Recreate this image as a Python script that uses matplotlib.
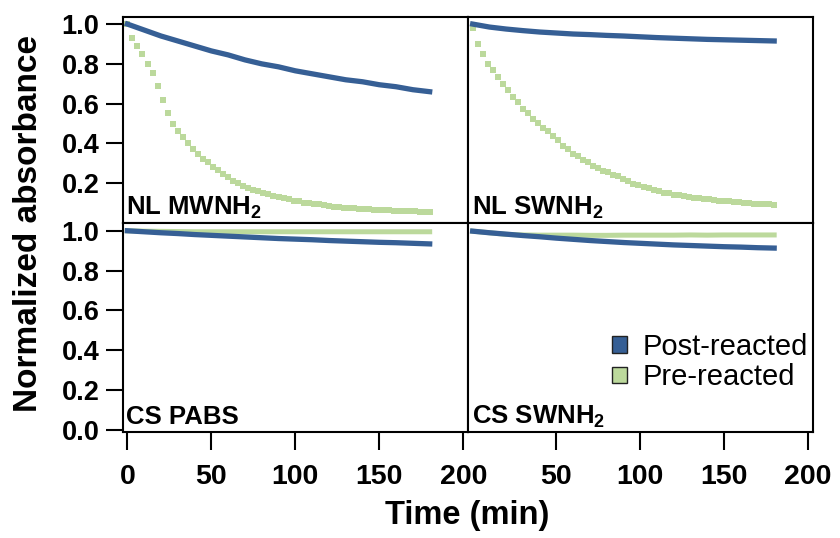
import matplotlib
matplotlib.use('Agg')
import matplotlib.pyplot as plt
import numpy as np
from matplotlib.patches import Patch

plt.rcParams['font.family'] = 'Liberation Sans'
plt.rcParams['font.weight'] = 'bold'
plt.rcParams['mathtext.fontset'] = 'custom'
plt.rcParams['mathtext.rm'] = 'Liberation Sans:bold'
plt.rcParams['mathtext.default'] = 'rm'

BLUE = '#365f95'
GREEN = '#bcd99c'

# time grids (min)
t_fine = np.arange(0, 181, 3)
t_coarse = np.arange(0, 181, 10)

# NL MWNH2
mw_post = [1.00, 0.97, 0.94, 0.915, 0.89, 0.865, 0.845, 0.82, 0.80, 0.785,
           0.765, 0.75, 0.735, 0.72, 0.71, 0.695, 0.685, 0.67, 0.66]
mw_pre = [1.00, 0.93, 0.89, 0.85, 0.80, 0.755, 0.69, 0.62, 0.555, 0.50,
          0.46, 0.43, 0.40, 0.37, 0.348, 0.322, 0.305, 0.283, 0.266, 0.245,
          0.229, 0.211, 0.199, 0.185, 0.177, 0.167, 0.161, 0.152, 0.147, 0.138,
          0.133, 0.125, 0.121, 0.113, 0.109, 0.102, 0.100, 0.094, 0.093, 0.088,
          0.087, 0.082, 0.081, 0.077, 0.076, 0.073, 0.072, 0.069, 0.069, 0.066,
          0.066, 0.063, 0.063, 0.061, 0.061, 0.059, 0.059, 0.058, 0.057, 0.057,
          0.056]

# NL SWNH2
sw_post = [1.00, 0.985, 0.975, 0.967, 0.96, 0.955, 0.95, 0.947, 0.943, 0.94,
           0.936, 0.932, 0.929, 0.926, 0.923, 0.921, 0.919, 0.917, 0.915]
sw_pre = [0.98, 0.90, 0.85, 0.80, 0.768, 0.732, 0.70, 0.668, 0.632, 0.607,
          0.573, 0.552, 0.522, 0.503, 0.478, 0.462, 0.437, 0.418, 0.388, 0.372,
          0.348, 0.337, 0.318, 0.307, 0.288, 0.278, 0.263, 0.257, 0.243, 0.234,
          0.219, 0.212, 0.198, 0.192, 0.180, 0.176, 0.165, 0.162, 0.153, 0.151,
          0.143, 0.141, 0.134, 0.133, 0.126, 0.126, 0.120, 0.119, 0.115, 0.113,
          0.110, 0.109, 0.106, 0.106, 0.102, 0.102, 0.098, 0.098, 0.095, 0.094,
          0.092]

# CS PABS
pabs_post = [1.00, 0.995, 0.99, 0.986, 0.981, 0.977, 0.973, 0.969, 0.965, 0.961,
             0.958, 0.955, 0.951, 0.948, 0.945, 0.942, 0.94, 0.937, 0.934]
pabs_pre = [1.00, 0.998, 0.997, 0.996, 0.995, 0.995, 0.995, 0.995, 0.995, 0.995,
            0.995, 0.995, 0.995, 0.995, 0.995, 0.995, 0.995, 0.995, 0.995]

# CS SWNH2
cssw_post = [0.998, 0.99, 0.983, 0.976, 0.97, 0.963, 0.957, 0.951, 0.946, 0.941,
             0.937, 0.933, 0.929, 0.926, 0.923, 0.92, 0.918, 0.915, 0.913]
cssw_pre = [0.998, 0.99, 0.982, 0.979, 0.978, 0.978, 0.978, 0.977, 0.977, 0.978,
            0.978, 0.978, 0.978, 0.979, 0.978, 0.979, 0.979, 0.979, 0.979]

panel_labels = ['NL MWNH$_2$', 'NL SWNH$_2$', 'CS PABS', 'CS SWNH$_2$']

W, H = 840, 538
fig = plt.figure(figsize=(8.4, 5.38), dpi=100)

def px_axes(x0, x1, y0, y1):
    return fig.add_axes([x0 / W, 1 - y1 / H, (x1 - x0) / W, (y1 - y0) / H])

ax_tl = px_axes(123, 468.3, 17.3, 223)
ax_tr = px_axes(468.3, 812.7, 17.3, 223)
ax_bl = px_axes(123, 468.3, 223, 432.3)
ax_br = px_axes(468.3, 812.7, 223, 432.3)
axes = [ax_tl, ax_tr, ax_bl, ax_br]

# NL panels: pre-reacted as scattered squares
for ax, post, pre in [(ax_tl, mw_post, mw_pre), (ax_tr, sw_post, sw_pre)]:
    ax.plot(t_fine, pre, 's', color=GREEN, ms=4.2, mew=0)
    ax.plot(t_coarse, post, '-', color=BLUE, lw=3.8)
# CS panels
for ax, post, pre in [(ax_bl, pabs_post, pabs_pre), (ax_br, cssw_post, cssw_pre)]:
    ax.plot(t_coarse, pre, '-', color=GREEN, lw=3.6)
    ax.plot(t_coarse, post, '-', color=BLUE, lw=3.8)

for ax, lab in zip(axes, panel_labels):
    ax.set_xlim(-2.6, 203)
    for s in ax.spines.values():
        s.set_linewidth(1.5)
    ax.annotate(lab, xy=(0, 0), xycoords='axes fraction', xytext=(2.5, 5.8),
                textcoords='offset points', fontsize=18.5, fontweight='bold',
                va='baseline', ha='left')
    ax.tick_params(direction='out', width=1.5)

ax_tl.set_ylim(0, 1.034)
ax_tr.set_ylim(0, 1.034)
ax_bl.set_ylim(-0.012, 1.039)
ax_br.set_ylim(-0.012, 1.039)

ax_tl.set_yticks([0.2, 0.4, 0.6, 0.8, 1.0])
ax_bl.set_yticks([0.0, 0.2, 0.4, 0.6, 0.8, 1.0])
for ax in [ax_tl, ax_bl]:
    ax.tick_params(axis='y', length=12, pad=5, labelsize=19.5)
    ax.set_yticklabels(['%.1f' % v for v in ax.get_yticks()], fontweight='bold')
for ax in [ax_tr, ax_br]:
    ax.set_yticks([])
for ax in [ax_tl, ax_tr]:
    ax.set_xticks([])

ax_bl.set_xticks([0, 50, 100, 150, 200])
ax_br.set_xticks([50, 100, 150, 200])
for ax in [ax_bl, ax_br]:
    ax.tick_params(axis='x', length=13, pad=10, labelsize=20.5)
    ax.set_xticklabels([str(v) for v in ax.get_xticks()], fontweight='bold')

handles = [Patch(facecolor=BLUE, edgecolor='#222222', lw=1, label='Post-reacted'),
           Patch(facecolor=GREEN, edgecolor='#222222', lw=1, label='Pre-reacted')]
fig.legend(handles=handles, loc='upper left', bbox_to_anchor=(612 / W, 1 - 333 / H),
           frameon=False, borderpad=0, borderaxespad=0, handlelength=0.5,
           handleheight=0.5, handletextpad=0.55, labelspacing=0.08,
           prop={'family': 'Liberation Sans', 'weight': 'normal', 'size': 21})

fig.text(0.034, 1 - 224 / H, 'Normalized absorbance', rotation=90, ha='center',
         va='center', fontsize=24, fontweight='bold')
fig.text(467 / W, 0.041, 'Time (min)', ha='center', va='center', fontsize=23.5,
         fontweight='bold')

fig.savefig('out.png', dpi=100)
